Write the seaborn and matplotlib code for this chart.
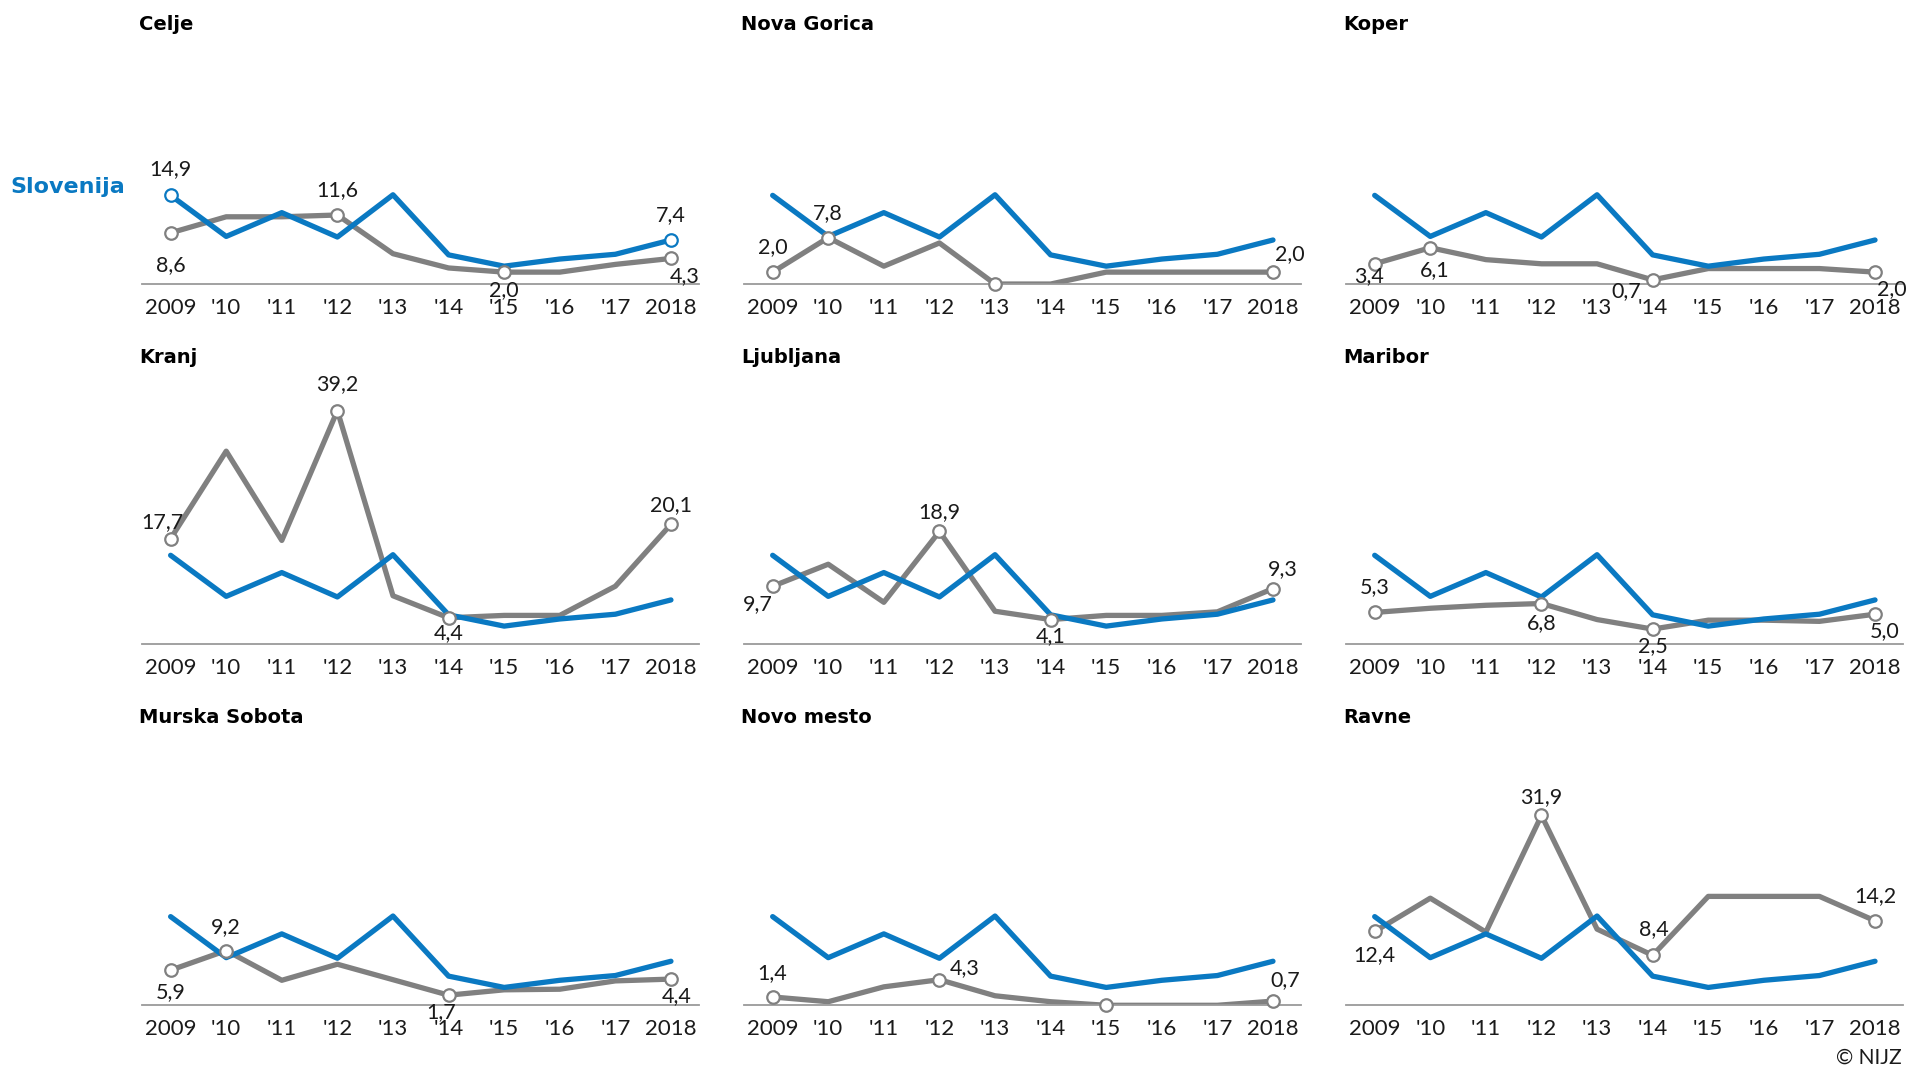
import matplotlib
matplotlib.use("Agg")
import matplotlib.pyplot as plt
import seaborn as sns

# data
year_labels = ['2009', "'10", "'11", "'12", "'13", "'14", "'15", "'16", "'17", '2018']
slovenija = [14.9, 8.0, 12.0, 7.9, 15.0, 4.9, 3.0, 4.2, 5.0, 7.4]

celje = [8.6, 11.3, 11.3, 11.6, 5.1, 2.7, 2.0, 2.0, 3.3, 4.3]
nova_gorica = [2.0, 7.8, 3.0, 6.9, 0.0, 0.0, 2.0, 2.0, 2.0, 2.0]
koper = [3.4, 6.1, 4.1, 3.4, 3.4, 0.7, 2.6, 2.6, 2.6, 2.0]
kranj = [17.7, 32.4, 17.4, 39.2, 8.1, 4.4, 4.8, 4.8, 9.7, 20.1]
ljubljana = [9.7, 13.4, 7.0, 18.9, 5.5, 4.1, 4.8, 4.8, 5.4, 9.3]
maribor = [5.3, 6.0, 6.5, 6.8, 4.1, 2.5, 4.0, 4.0, 3.8, 5.0]
murska_sobota = [5.9, 9.2, 4.2, 6.9, 4.3, 1.7, 2.6, 2.7, 4.1, 4.4]
novo_mesto = [1.4, 0.6, 3.1, 4.3, 1.6, 0.6, 0.0, 0.0, 0.0, 0.7]
ravne = [12.4, 18.0, 12.3, 31.9, 12.8, 8.4, 18.3, 18.3, 18.3, 14.2]

regions = ['Celje', 'Nova Gorica', 'Koper', 'Kranj', 'Ljubljana', 'Maribor',
           'Murska Sobota', 'Novo mesto', 'Ravne']
region_values = [celje, nova_gorica, koper, kranj, ljubljana, maribor,
                 murska_sobota, novo_mesto, ravne]

# marked points: (index, dx, dy, show label) in points
marks = {
    'Celje': [(0, 0, -23, True), (3, 0, 18, True), (6, 0, -13, True), (9, 10, -13, True)],
    'Nova Gorica': [(0, 0, 18, True), (1, 0, 18, True), (4, 0, 0, False), (9, 12, 13, True)],
    'Koper': [(0, -4, -9, True), (1, 3, -16, True), (5, -19, -8, True), (9, 12, -12, True)],
    'Kranj': [(0, -6, 12, True), (3, 0, 19, True), (5, 0, -11, True), (9, 0, 14, True)],
    'Ljubljana': [(0, -11, -13, True), (3, 0, 14, True), (5, 0, -12, True), (9, 7, 14, True)],
    'Maribor': [(0, 0, 18, True), (3, 0, -14, True), (5, 0, -12, True), (9, 7, -12, True)],
    'Murska Sobota': [(0, 0, -16, True), (1, 0, 17, True), (5, -5, -12, True), (9, 4, -12, True)],
    'Novo mesto': [(0, 0, 17, True), (3, 18, 8, True), (6, 0, 0, False), (9, 9, 15, True)],
    'Ravne': [(0, 0, -17, True), (3, 0, 13, True), (5, 1, 19, True), (9, 0, 18, True)],
}
slo_marks = [(0, 0, 19), (9, 0, 18)]

BLUE = '#0a79c2'
GREY = '#808080'
DARK = '#1a1a1a'

sns.set_theme(style='white')
plt.rcParams['font.family'] = ['Lato', 'DejaVu Sans']

fig = plt.figure(figsize=(19.07, 10.69), dpi=100)

col_left = [0.0746, 0.3903, 0.7060]
row_bottom = [0.7343, 0.3976, 0.0596]
title_y = [0.9775, 0.6660, 0.3290]
ax_w = 0.2921
ax_h = 0.2338

x = list(range(len(year_labels)))


def fmt(v):
    return f"{v:.1f}".replace('.', ',')


def draw_marker(ax, i, v, color):
    ax.plot([i], [v], marker='o', markersize=9, markerfacecolor='white',
            markeredgecolor=color, markeredgewidth=1.6, linestyle='none', zorder=5,
            clip_on=False)


for k, (name, vals) in enumerate(zip(regions, region_values)):
    r, c = divmod(k, 3)
    ax = fig.add_axes([col_left[c], row_bottom[r], ax_w, ax_h])
    sns.lineplot(x=x, y=vals, ax=ax, color=GREY, linewidth=3.8, zorder=2)
    sns.lineplot(x=x, y=slovenija, ax=ax, color=BLUE, linewidth=3.8, zorder=3)

    for i, dx, dy, show in marks[name]:
        draw_marker(ax, i, vals[i], GREY)
        if show:
            ax.annotate(fmt(vals[i]), (i, vals[i]), xytext=(dx, dy),
                        textcoords='offset points', ha='center', va='center',
                        fontsize=15.5, color=DARK, zorder=6)

    if name == 'Celje':
        for i, dx, dy in slo_marks:
            draw_marker(ax, i, slovenija[i], BLUE)
            ax.annotate(fmt(slovenija[i]), (i, slovenija[i]), xytext=(dx, dy),
                        textcoords='offset points', ha='center', va='center',
                        fontsize=15.5, color=DARK, zorder=6)

    ax.set_xlim(-0.51, 9.51)
    ax.set_ylim(0, 42)
    ax.set_xticks(x)
    ax.set_xticklabels(year_labels)
    ax.set_yticks([])
    ax.tick_params(axis='x', length=0, pad=10, labelsize=16, colors=DARK)
    for s in ['top', 'right', 'left']:
        ax.spines[s].set_visible(False)
    ax.spines['bottom'].set_color('#9a9a9a')
    ax.spines['bottom'].set_linewidth(1.3)
    ax.set_facecolor('none')
    ax.set_xlabel('')
    ax.set_ylabel('')

    fig.text(col_left[c] - 0.0015, title_y[r], name, fontsize=14,
             fontweight='bold', color='black', ha='left', va='center',
             family='DejaVu Sans')

fig.text(0.0055, 0.825, 'Slovenija', fontsize=16, fontweight='bold', color=BLUE,
         ha='left', va='center', family='DejaVu Sans')
fig.text(0.997, 0.0105, '© NIJZ', fontsize=15, color=DARK, ha='right', va='center')

fig.savefig('out.png', dpi=100)
